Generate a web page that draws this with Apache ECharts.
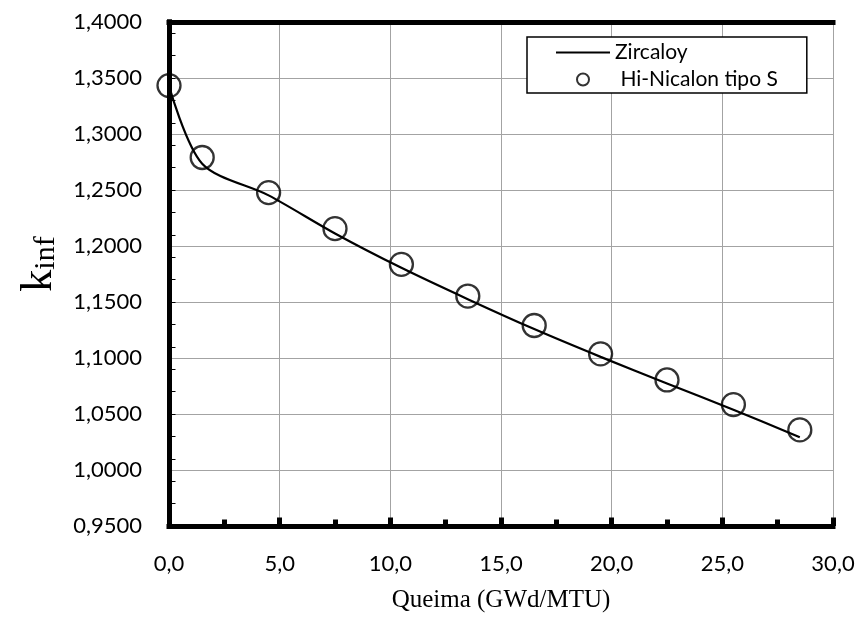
<!DOCTYPE html>
<html>
<head>
<meta charset="utf-8">
<title>k-inf vs burnup</title>
<script src="https://cdn.jsdelivr.net/npm/echarts@6/dist/echarts.min.js"></script>
<style>
  html, body { margin: 0; padding: 0; background: #fff; }
  #chart { width: 860px; height: 621px; }
</style>
</head>
<body>
<div id="chart"></div>
<script>
// Burnup steps (GWd/MTU)
const burnup = [0, 1.5, 4.5, 7.5, 10.5, 13.5, 16.5, 19.5, 22.5, 25.5, 28.5];
// k-inf for the Zircaloy cladding (solid line)
const kinfZircaloy = [1.3428, 1.2735, 1.2452, 1.2112, 1.1805, 1.1525, 1.1258, 1.1010, 1.0773, 1.0538, 1.0292];
// k-inf for the Hi-Nicalon type S cladding (open circles)
const kinfHiNicalon = [1.3432, 1.2790, 1.2477, 1.2155, 1.1836, 1.1553, 1.1290, 1.1037, 1.0804, 1.0584, 1.0358];

const seriesNames = ['Zircaloy', 'Hi-Nicalon tipo S'];

const LABEL_FONT = 'Lato, "Open Sans", sans-serif';
const SERIF = '"Liberation Serif", "DejaVu Serif", serif';
const GRID_GREY = '#a3a3a3';

const pairs = (xs, ys) => xs.map((x, i) => [x, ys[i]]);
const frameAxis = (extra) => Object.assign({
  type: 'value', min: 0, max: 1, z: 3,
  axisLine: { show: true, lineStyle: { color: '#000', width: 5, cap: 'square' } },
  axisTick: { show: false }, axisLabel: { show: false }, splitLine: { show: false }
}, extra);

const chart = echarts.init(document.getElementById('chart'), null, { renderer: 'canvas' });

chart.setOption({
  backgroundColor: '#fff',
  animation: false,
  grid: { left: 169, right: 27, top: 22, bottom: 95, containLabel: false },
  legend: {
    orient: 'vertical',
    left: 527, top: 37,
    padding: [5, 29, 3, 29],
    itemGap: 6,
    itemWidth: 54, itemHeight: 12,
    backgroundColor: '#fff',
    borderColor: '#000', borderWidth: 1.5,
    data: [
      // plain line swatch for the Zircaloy curve
      { name: seriesNames[0], icon: 'path://M0,0H54V2.2H0Z', itemStyle: { color: '#000', borderWidth: 0 } },
      { name: seriesNames[1] }
    ],
    formatter: (name) => name === seriesNames[1] ? ' ' + name : name,
    textStyle: { fontFamily: LABEL_FONT, fontSize: 21, color: '#000' }
  },
  xAxis: [
    {
      type: 'value', min: 0, max: 30, interval: 5, position: 'bottom', z: 1,
      name: 'Queima (GWd/MTU)', nameLocation: 'middle', nameGap: 62,
      nameTextStyle: { fontFamily: SERIF, fontSize: 25, color: '#000' },
      axisLine: { show: false },
      axisTick: { show: true, inside: true, length: 8.5, lineStyle: { color: '#000', width: 5 } },
      minorTick: { show: true, splitNumber: 2, length: 6.5, lineStyle: { color: '#000', width: 5 } },
      axisLabel: {
        margin: 27, fontFamily: LABEL_FONT, fontSize: 22, color: '#000',
        formatter: (v) => v.toFixed(1).replace('.', ',')
      },
      splitLine: { show: true, lineStyle: { color: GRID_GREY, width: 1 } }
    },
    frameAxis({ position: 'bottom' }),
    frameAxis({ position: 'top' })
  ],
  yAxis: [
    {
      type: 'value', min: 0.95, max: 1.40, interval: 0.05, position: 'left', z: 1,
      // leading blank token nudges the rotated title a little above the axis middle
      name: '{g|}{k|k}{s|inf}', nameLocation: 'middle', nameRotate: 90, nameGap: 108,
      nameTextStyle: {
        color: '#000',
        rich: {
          g: { width: 20, fontSize: 10 },
          k: { fontFamily: SERIF, fontSize: 44, lineHeight: 44, verticalAlign: 'top', color: '#000' },
          s: { fontFamily: SERIF, fontSize: 30, lineHeight: 30, verticalAlign: 'bottom', color: '#000' }
        }
      },
      axisLine: { show: false },
      axisTick: { show: false },
      axisLabel: {
        margin: 27, fontFamily: LABEL_FONT, fontSize: 22, color: '#000',
        formatter: (v) => v.toFixed(4).replace('.', ',')
      },
      splitLine: { show: true, lineStyle: { color: GRID_GREY, width: 1 } }
    },
    // Minor ticks every 0.02 counted up from 0.95, plus the left frame edge
    frameAxis({
      min: 0, max: 0.45, interval: 0.02, position: 'left',
      axisTick: { show: true, inside: true, length: 6.5, lineStyle: { color: '#000', width: 1 } }
    }),
    frameAxis({ position: 'right' })
  ],
  series: [
    {
      name: seriesNames[0], type: 'line', xAxisIndex: 0, yAxisIndex: 0,
      data: pairs(burnup, kinfZircaloy),
      smooth: 0.3, showSymbol: false, symbol: 'none', z: 2,
      lineStyle: { color: '#000', width: 2.2 },
      itemStyle: { color: '#000' }
    },
    {
      name: seriesNames[1], type: 'scatter', xAxisIndex: 0, yAxisIndex: 0,
      data: pairs(burnup, kinfHiNicalon),
      symbol: 'circle', symbolSize: 23, z: 3,
      itemStyle: { color: 'rgba(0,0,0,0)', borderColor: '#000', borderWidth: 2.3 }
    }
  ]
});
</script>
</body>
</html>
